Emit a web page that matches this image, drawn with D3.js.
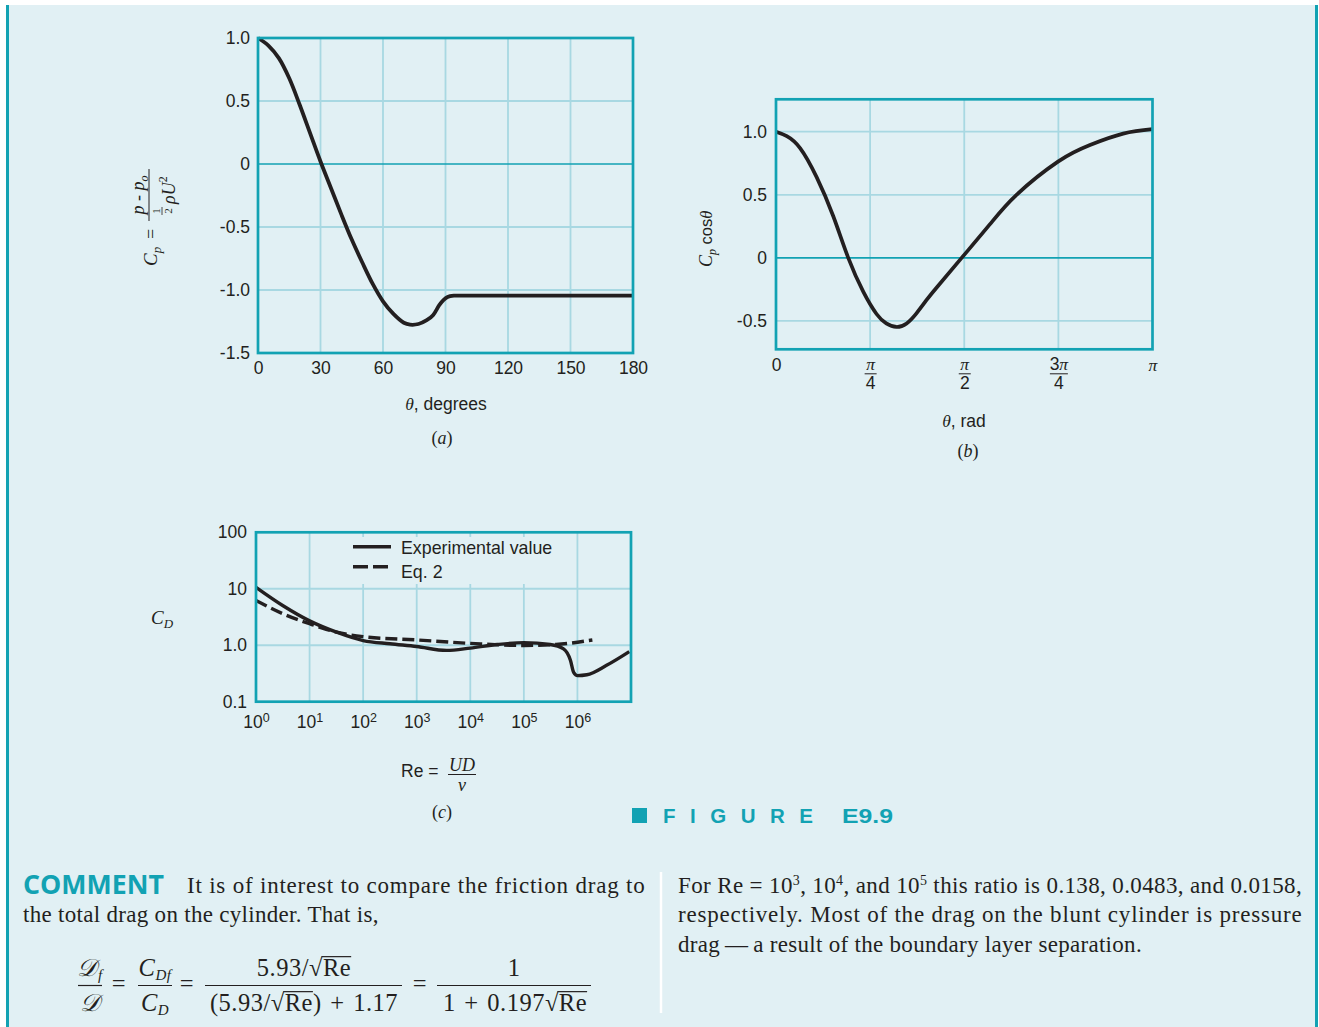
<!DOCTYPE html>
<html><head><meta charset="utf-8">
<script src="https://cdn.jsdelivr.net/npm/d3@7"></script>
<style>html,body{margin:0;padding:0;background:#fff}svg{display:block}</style>
</head><body>
<svg id="fig" width="1319" height="1027" xmlns="http://www.w3.org/2000/svg"></svg>
<script>
// ---------- data: panel (a)  Cp vs theta (degrees)
const thetaDeg = [0,5,10,15,20,25,30,35,40,45,50,55,60,65,70,73,77,81,84,87,89,91,94,100,120,150,180];
const cpA      = [1.0,0.94,0.84,0.68,0.47,0.245,0.02,-0.19,-0.40,-0.60,-0.78,-0.95,-1.09,-1.19,-1.26,-1.275,-1.27,-1.24,-1.20,-1.12,-1.08,-1.055,-1.045,-1.045,-1.045,-1.045,-1.045];
// ---------- panel (b)  Cp cos(theta) vs theta (rad)
const thetaRad = [0,0.09,0.201,0.339,0.478,0.603,0.729,0.839,0.92,1.005,1.09,1.172,1.26,1.341,1.549,1.784,2.007,2.356,2.620,2.897,3.1416];
const cpCosB   = [1.0,0.965,0.87,0.64,0.33,0,-0.27,-0.445,-0.52,-0.548,-0.52,-0.44,-0.33,-0.235,0,0.265,0.50,0.765,0.895,0.985,1.02];
// ---------- panel (c)  CD vs Re
const reExp = [1,3.2,10,32,100,316,1000,3600,1e4,3.2e4,1e5,3.1e5,5.5e5,7.4e5,8.5e5,1e6,1.5e6,3.5e6,9.3e6];
const cdExp = [10.6,5.0,2.7,1.7,1.21,1.06,0.95,0.81,0.89,1.03,1.11,1.03,0.86,0.54,0.33,0.29,0.30,0.44,0.77];
const reEq2 = [1,3.2,10,32,100,1000,1e4,1e5,4e5,1.9e6];
const cdEq2 = [6.2,3.6,2.4,1.7,1.42,1.24,1.08,0.99,1.03,1.24];
// ---------- ticks & labels
const aXTicks = [0,30,60,90,120,150,180];
const aYTicks = [1.0,0.5,0,-0.5,-1.0,-1.5];
const aYLabels = ["1.0","0.5","0","-0.5","-1.0","-1.5"];
const aGridX = [30,60,90,120,150], aGridY = [0.5,-0.5,-1.0];
const bXTicks = [0, Math.PI/4, Math.PI/2, 3*Math.PI/4, Math.PI];
const bXNum = ["0","π","π","3π","π"], bXDen = [null,"4","2","4",null];
const bYTicks = [1.0,0.5,0,-0.5], bYLabels = ["1.0","0.5","0","-0.5"];
const bGridX = [Math.PI/4, Math.PI/2, 3*Math.PI/4], bGridY = [1.0,0.5,-0.5];
const cXTicks = [1,1e1,1e2,1e3,1e4,1e5,1e6], cXExp = ["0","1","2","3","4","5","6"];
const cYTicks = [100,10,1,0.1], cYLabels = ["100","10","1.0","0.1"];
const cGridX = [1e1,1e2,1e3,1e4,1e5,1e6], cGridY = [10,1];
const legendLabels = ["Experimental value","Eq. 2"];

const TEAL="#12a2b3", GRID="#a8d8e2", BG="#e1f0f4", INK="#231f20";
const SANS='"Liberation Sans", Arial, Helvetica, sans-serif';
const SERIF='"Liberation Serif", "Times New Roman", Times, serif';
const TICK = 17.5;

const svg = d3.select("#fig");
svg.append("rect").attr("x",6).attr("y",5).attr("width",1312).attr("height",1022).attr("fill",BG);
svg.append("rect").attr("x",6).attr("y",5).attr("width",3).attr("height",1022).attr("fill",TEAL);
svg.append("rect").attr("x",1315).attr("y",5).attr("width",3).attr("height",1022).attr("fill",TEAL);

function gridLines(g, scale, vals, dir, a, b, color, w){
  g.selectAll(null).data(vals).join("line")
   .attr("x1", d=> dir==="v"?scale(d):a).attr("x2", d=> dir==="v"?scale(d):b)
   .attr("y1", d=> dir==="v"?a:scale(d)).attr("y2", d=> dir==="v"?b:scale(d))
   .attr("stroke",color).attr("stroke-width",w);
}
function styleAxis(g,size){ g.select(".domain").remove(); g.attr("font-family",SANS).attr("font-size",size).attr("color",INK); }
const smooth = d3.curveCatmullRom.alpha(0.5);

// ================= PANEL A =================
const xA = d3.scaleLinear().domain([0,180]).range([258,633]);
const yA = d3.scaleLinear().domain([-1.5,1.0]).range([353,38]);
const gA = svg.append("g");
gridLines(gA, xA, aGridX, "v", 38, 353, GRID, 1.8);
gridLines(gA, yA, aGridY, "h", 258, 633, GRID, 1.8);
gridLines(gA, yA, [0], "h", 258, 633, TEAL, 1.6);
gA.append("path").datum(d3.zip(thetaDeg,cpA))
  .attr("d", d3.line().x(d=>xA(d[0])).y(d=>yA(d[1])).curve(smooth))
  .attr("fill","none").attr("stroke",INK).attr("stroke-width",3.8).attr("stroke-linejoin","round");
gA.append("rect").attr("x",258).attr("y",38).attr("width",375).attr("height",315)
  .attr("fill","none").attr("stroke",TEAL).attr("stroke-width",2.7);
gA.append("g").attr("transform","translate(258,0)")
  .call(d3.axisLeft(yA).tickValues(aYTicks).tickSize(0).tickPadding(8).tickFormat((d,i)=>aYLabels[i]))
  .call(g=>styleAxis(g,TICK));
gA.append("g").attr("transform","translate(0,353)")
  .call(d3.axisBottom(xA).tickValues(aXTicks).tickSize(0).tickPadding(9).tickFormat(d3.format("d")))
  .call(g=>styleAxis(g,TICK));
{
  const t = gA.append("text").attr("x",446).attr("y",410).attr("text-anchor","middle").attr("fill",INK).attr("font-size",17.5);
  t.append("tspan").attr("font-family",SERIF).attr("font-style","italic").text("θ");
  t.append("tspan").attr("font-family",SANS).text(", degrees");
  gA.append("text").attr("x",442).attr("y",444).attr("text-anchor","middle").attr("fill",INK)
    .attr("font-family",SERIF).attr("font-size",18).html('(<tspan font-style="italic">a</tspan>)');
}
{
  const yl = gA.append("g").attr("transform","translate(157,266) rotate(-90)")
     .attr("font-family",SERIF).attr("fill",INK);
  const c = yl.append("text").attr("x",0).attr("y",0).attr("font-size",19);
  c.append("tspan").attr("font-style","italic").text("C");
  c.append("tspan").attr("font-style","italic").attr("font-size",13).attr("dy",4).text("p");
  yl.append("text").attr("x",27).attr("y",0).attr("font-size",18).text("=");
  yl.append("line").attr("x1",45).attr("x2",97).attr("y1",-8).attr("y2",-8).attr("stroke",INK).attr("stroke-width",1);
  const n = yl.append("text").attr("x",71).attr("y",-13).attr("text-anchor","middle").attr("font-size",18).attr("font-style","italic");
  n.append("tspan").text("p - p");
  n.append("tspan").attr("font-size",12).attr("dy",4).text("o");
  yl.append("text").attr("x",55).attr("y",3).attr("text-anchor","middle").attr("font-size",11).text("1");
  yl.append("line").attr("x1",51).attr("x2",59).attr("y1",5).attr("y2",5).attr("stroke",INK).attr("stroke-width",0.8);
  yl.append("text").attr("x",55).attr("y",15).attr("text-anchor","middle").attr("font-size",11).text("2");
  const d = yl.append("text").attr("x",62).attr("y",18).attr("font-size",18).attr("font-style","italic");
  d.append("tspan").text("ρU");
  d.append("tspan").attr("font-style","normal").attr("font-size",12).attr("dy",-8).text("2");
}

// ================= PANEL B =================
const xB = d3.scaleLinear().domain([0,Math.PI]).range([776,1152.5]);
const yB = d3.scaleLinear().domain([-0.725,1.257]).range([349.3,99.3]);
const gB = svg.append("g");
gridLines(gB, xB, bGridX, "v", 99.3, 349.3, GRID, 1.8);
gridLines(gB, yB, bGridY, "h", 776, 1152.5, GRID, 1.8);
gridLines(gB, yB, [0], "h", 776, 1152.5, TEAL, 1.6);
gB.append("path").datum(d3.zip(thetaRad,cpCosB))
  .attr("d", d3.line().x(d=>xB(d[0])).y(d=>yB(d[1])).curve(d3.curveNatural))
  .attr("fill","none").attr("stroke",INK).attr("stroke-width",3.7).attr("stroke-linejoin","round");
gB.append("rect").attr("x",776).attr("y",99.3).attr("width",376.5).attr("height",250)
  .attr("fill","none").attr("stroke",TEAL).attr("stroke-width",2.7);
gB.append("g").attr("transform","translate(776,0)")
  .call(d3.axisLeft(yB).tickValues(bYTicks).tickSize(0).tickPadding(9).tickFormat((d,i)=>bYLabels[i]))
  .call(g=>styleAxis(g,TICK));
const axBx = gB.append("g").attr("transform","translate(0,349.3)")
  .call(d3.axisBottom(xB).tickValues(bXTicks).tickSize(0).tickPadding(0).tickFormat(()=>""))
  .call(g=>styleAxis(g,TICK));
axBx.selectAll(".tick").each(function(d,i){
  const tk = d3.select(this);
  tk.select("text").remove();
  if(bXDen[i]===null){
    tk.append("text").attr("y",22).attr("text-anchor","middle").attr("fill",INK)
      .attr("font-family", bXNum[i]==="0"?SANS:SERIF).attr("font-style", bXNum[i]==="0"?"normal":"italic")
      .attr("font-size",TICK).text(bXNum[i]);
  } else {
    const num = tk.append("text").attr("y",21).attr("text-anchor","middle").attr("fill",INK).attr("font-size",TICK);
    if(bXNum[i].length>1){
      num.append("tspan").attr("font-family",SANS).text(bXNum[i][0]);
      num.append("tspan").attr("font-family",SERIF).attr("font-style","italic").text(bXNum[i].slice(1));
    } else num.append("tspan").attr("font-family",SERIF).attr("font-style","italic").text(bXNum[i]);
    const hw = bXNum[i].length>1?9:6;
    tk.append("line").attr("x1",-hw).attr("x2",hw).attr("y1",24.5).attr("y2",24.5).attr("stroke",INK).attr("stroke-width",1);
    tk.append("text").attr("y",39.5).attr("text-anchor","middle").attr("fill",INK).attr("font-family",SANS).attr("font-size",TICK).text(bXDen[i]);
  }
});
{
  const t = gB.append("text").attr("x",964).attr("y",427).attr("text-anchor","middle").attr("fill",INK).attr("font-size",17.5);
  t.append("tspan").attr("font-family",SERIF).attr("font-style","italic").text("θ");
  t.append("tspan").attr("font-family",SANS).text(", rad");
  gB.append("text").attr("x",968).attr("y",457).attr("text-anchor","middle").attr("fill",INK)
    .attr("font-family",SERIF).attr("font-size",18).html('(<tspan font-style="italic">b</tspan>)');
  const yl = gB.append("g").attr("transform","translate(712,267) rotate(-90)").attr("fill",INK);
  const c = yl.append("text").attr("x",0).attr("y",0).attr("font-size",18);
  c.append("tspan").attr("font-family",SERIF).attr("font-style","italic").text("C");
  c.append("tspan").attr("font-family",SERIF).attr("font-style","italic").attr("font-size",12).attr("dy",4).text("p");
  c.append("tspan").attr("font-family",SANS).attr("font-size",16.5).attr("dy",-4).text(" cos");
  c.append("tspan").attr("font-family",SERIF).attr("font-style","italic").attr("font-size",16.5).text("θ");
}

// ================= PANEL C =================
const xC = d3.scaleLog().domain([1,1e7]).range([256,631]);
const yC = d3.scaleLog().domain([0.1,100]).range([701.7,532.3]);
const gC = svg.append("g");
gridLines(gC, xC, cGridX, "v", 532.3, 701.7, GRID, 1.8);
gridLines(gC, yC, cGridY, "h", 256, 631, GRID, 1.8);
gC.append("rect").attr("x",349).attr("y",537).attr("width",206).attr("height",47).attr("fill",BG);
gC.append("path").datum(d3.zip(reEq2,cdEq2))
  .attr("d", d3.line().x(d=>xC(d[0])).y(d=>yC(d[1])).curve(d3.curveMonotoneX))
  .attr("fill","none").attr("stroke",INK).attr("stroke-width",3.4).attr("stroke-dasharray","12,5");
gC.append("path").datum(d3.zip(reExp,cdExp))
  .attr("d", d3.line().x(d=>xC(d[0])).y(d=>yC(d[1])).curve(d3.curveMonotoneX))
  .attr("fill","none").attr("stroke",INK).attr("stroke-width",3.4).attr("stroke-linejoin","round");
gC.append("rect").attr("x",256).attr("y",532.3).attr("width",375).attr("height",169.4)
  .attr("fill","none").attr("stroke",TEAL).attr("stroke-width",2.7);
gC.append("g").attr("transform","translate(256,0)")
  .call(d3.axisLeft(yC).tickValues(cYTicks).tickSize(0).tickPadding(9).tickFormat((d,i)=>cYLabels[i]))
  .call(g=>styleAxis(g,TICK));
const axCx = gC.append("g").attr("transform","translate(0,701.7)")
  .call(d3.axisBottom(xC).tickValues(cXTicks).tickSize(0).tickPadding(14).tickFormat(()=>""))
  .call(g=>styleAxis(g,TICK));
axCx.selectAll(".tick text").each(function(d,i){
  const t = d3.select(this);
  t.append("tspan").text("10");
  t.append("tspan").attr("dy","-0.45em").attr("font-size",12.5).text(cXExp[i]);
});
{
  const lg = gC.append("g");
  lg.append("line").attr("x1",353).attr("x2",391).attr("y1",546.7).attr("y2",546.7).attr("stroke",INK).attr("stroke-width",3.5);
  lg.append("line").attr("x1",353).attr("x2",391).attr("y1",566.7).attr("y2",566.7).attr("stroke",INK).attr("stroke-width",3.5).attr("stroke-dasharray","15,5");
  lg.selectAll("text.lt").data(legendLabels).join("text").attr("class","lt")
    .attr("x",401).attr("y",(d,i)=>554+i*24).attr("fill",INK).attr("font-family",SANS).attr("font-size",17.8).text(d=>d);
  const cd = gC.append("text").attr("x",151).attr("y",624).attr("fill",INK).attr("font-family",SERIF).attr("font-style","italic").attr("font-size",19);
  cd.append("tspan").text("C");
  cd.append("tspan").attr("font-size",13).attr("dy",4).text("D");
  gC.append("text").attr("x",401).attr("y",777).attr("fill",INK).attr("font-family",SANS).attr("font-size",17.5).text("Re =");
  gC.append("text").attr("x",462).attr("y",771).attr("text-anchor","middle").attr("fill",INK).attr("font-family",SERIF).attr("font-style","italic").attr("font-size",18).text("UD");
  gC.append("line").attr("x1",448).attr("x2",476).attr("y1",774.5).attr("y2",774.5).attr("stroke",INK).attr("stroke-width",1);
  gC.append("text").attr("x",462).attr("y",791).attr("text-anchor","middle").attr("fill",INK).attr("font-family",SERIF).attr("font-style","italic").attr("font-size",18).text("ν");
  gC.append("text").attr("x",442).attr("y",818).attr("text-anchor","middle").attr("fill",INK)
    .attr("font-family",SERIF).attr("font-size",18).html('(<tspan font-style="italic">c</tspan>)');
}

// ================= FIGURE label =================
svg.append("rect").attr("x",632).attr("y",808).attr("width",15).attr("height",15).attr("fill",TEAL);
svg.append("text").attr("x",663).attr("y",823).attr("fill",TEAL).attr("font-family",SANS).attr("font-weight","bold")
  .attr("font-size",20.5).attr("textLength",150).attr("lengthAdjust","spacing").text("FIGURE");
svg.append("text").attr("x",842).attr("y",823).attr("fill",TEAL).attr("font-family",SANS).attr("font-weight","bold")
  .attr("font-size",20.5).attr("textLength",51).attr("lengthAdjust","spacingAndGlyphs").text("E9.9");

// ================= COMMENT =================
svg.append("line").attr("x1",661).attr("x2",661).attr("y1",872).attr("y2",1013).attr("stroke","#ffffff").attr("stroke-width",2.5);
svg.append("text").attr("x",23).attr("y",894).attr("fill",TEAL).attr("font-family",'"Open Sans", "Liberation Sans", sans-serif')
  .attr("font-weight","bold").attr("font-size",27).attr("textLength",141).attr("lengthAdjust","spacingAndGlyphs").text("COMMENT");
const BODY = 23;
function bodyText(x,y,len){
  const t = svg.append("text").attr("x",x).attr("y",y).attr("fill",INK).attr("font-family",SERIF).attr("font-size",BODY)
    .attr("letter-spacing",0.3);
  if(len) t.attr("textLength",len).attr("lengthAdjust","spacing");
  return t;
}
bodyText(187,893,458).text("It is of interest to compare the friction drag to");
bodyText(23,922).text("the total drag on the cylinder. That is,");
{
  const t = bodyText(678,893,624);
  t.append("tspan").text("For Re = 10");
  t.append("tspan").attr("dy",-8).attr("font-size",14).text("3");
  t.append("tspan").attr("dy",8).text(", 10");
  t.append("tspan").attr("dy",-8).attr("font-size",14).text("4");
  t.append("tspan").attr("dy",8).text(", and 10");
  t.append("tspan").attr("dy",-8).attr("font-size",14).text("5");
  t.append("tspan").attr("dy",8).text(" this ratio is 0.138, 0.0483, and 0.0158,");
}
bodyText(678,922,624).text("respectively. Most of the drag on the blunt cylinder is pressure");
bodyText(678,952).text("drag\u2009—\u2009a result of the boundary layer separation.");

// ================= Equation =================
{
  const EQ = 24.5, NUMY = 976, DENY = 1011, BARY = 985.5;
  const eq = svg.append("g").attr("fill",INK).attr("font-family",SERIF).attr("font-size",EQ).attr("letter-spacing",0.5);
  function bar(x1,x2){ eq.append("line").attr("x1",x1).attr("x2",x2).attr("y1",BARY).attr("y2",BARY).attr("stroke",INK).attr("stroke-width",1.2); }
  function eqText(x,y,parts){
    const t = eq.append("text").attr("x",x).attr("y",y).attr("text-anchor","middle");
    parts.forEach(p=>{ const s=t.append("tspan").text(p.t); if(p.i) s.attr("font-style","italic"); if(p.s) s.attr("font-size",p.s); if(p.dy) s.attr("dy",p.dy); });
    return t;
  }
  function overline(t, text){
    const node = t.node(); const idx = text.indexOf("√");
    const x2 = node.getEndPositionOfChar(idx+2).x;
    const y = node.getStartPositionOfChar(idx).y - EQ*0.79;
    eq.append("line").attr("x1",node.getEndPositionOfChar(idx).x-1.5).attr("x2",x2).attr("y1",y).attr("y2",y).attr("stroke",INK).attr("stroke-width",1.2);
  }
  eqText(90,NUMY,[{t:"𝒟",i:1},{t:"f",i:1,s:15,dy:4}]);
  bar(78,102);
  eqText(90,DENY,[{t:"𝒟",i:1}]);
  eqText(119,992,[{t:"="}]);
  eqText(155,NUMY,[{t:"C",i:1},{t:"Df",i:1,s:15,dy:4}]);
  bar(138,172);
  eqText(155,DENY,[{t:"C",i:1},{t:"D",i:1,s:15,dy:4}]);
  eqText(187,992,[{t:"="}]);
  const s3 = "5.93/√Re";
  const n3 = eqText(304,NUMY,[{t:s3}]); overline(n3,s3);
  bar(205,402);
  const s3d = "(5.93/√Re)\u2004+\u20041.17";
  const d3t = eqText(304,DENY,[{t:s3d}]); overline(d3t,s3d);
  eqText(420,992,[{t:"="}]);
  eqText(514,NUMY,[{t:"1"}]);
  bar(437,591);
  const s4 = "1\u2004+\u20040.197√Re";
  const d4 = eqText(515,DENY,[{t:s4}]); overline(d4,s4);
}
</script>
</body></html>
